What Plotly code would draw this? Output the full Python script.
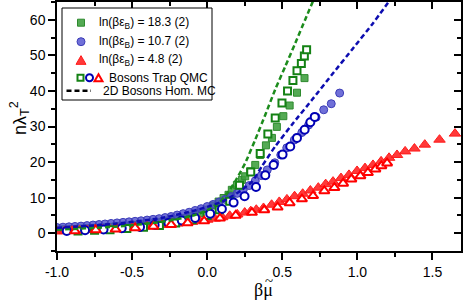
import plotly.graph_objects as go

# ---------------- data ----------------
# ln(beta eps_B) = 18.3 : filled green squares
gf_x = [-1.0, -0.95, -0.9, -0.85, -0.8, -0.75, -0.7, -0.65, -0.6, -0.55, -0.5, -0.45, -0.4,
        -0.35, -0.3, -0.25, -0.2, -0.15, -0.1, -0.05, 0.0, 0.04, 0.076, 0.109, 0.142, 0.164,
        0.198, 0.231, 0.253, 0.287, 0.32, 0.353, 0.391, 0.431, 0.464, 0.507, 0.549, 0.598, 0.648]
gf_y = [1.0, 1.1, 1.2, 1.3, 1.4, 1.5, 1.65, 1.8, 1.95, 2.1, 2.3, 2.5, 2.7,
        2.95, 3.2, 3.5, 3.9, 4.3, 4.9, 5.6, 6.6, 7.8, 8.9, 9.9, 10.8, 12.2,
        13.6, 15.0, 16.0, 17.4, 19.2, 22.0, 24.7, 26.8, 29.9, 32.9, 35.9, 39.5, 43.6]

# ln(beta eps_B) = 10.7 : filled blue circles
bf_x = [-1.0, -0.96, -0.92, -0.88, -0.84, -0.8, -0.76, -0.72, -0.68, -0.64, -0.6, -0.56,
        -0.52, -0.48, -0.44, -0.4, -0.36, -0.32, -0.28, -0.24, -0.2, -0.16, -0.12, -0.08,
        -0.04, 0.0, 0.04, 0.08, 0.12, 0.16, 0.2, 0.24, 0.28, 0.32, 0.36, 0.4, 0.45, 0.49,
        0.53, 0.58, 0.63, 0.675, 0.725, 0.776, 0.826, 0.882]
bf_y = [1.6, 1.7, 1.8, 1.9, 2.0, 2.15, 2.3, 2.45, 2.6, 2.75, 2.9, 3.05,
        3.2, 3.35, 3.5, 3.7, 3.9, 4.1, 4.4, 4.7, 5.1, 5.5, 5.9, 6.4,
        6.9, 7.5, 8.1, 8.8, 9.5, 10.3, 11.2, 12.2, 13.4, 14.7, 16.2, 17.8, 19.8, 22.0,
        24.0, 26.2, 28.3, 30.4, 32.6, 34.7, 36.4, 39.4]

# ln(beta eps_B) = 4.8 : filled red triangles
rf_x = [-1.0, -0.95, -0.9, -0.85, -0.8, -0.75, -0.7, -0.65, -0.6, -0.55, -0.5, -0.45, -0.4,
        -0.35, -0.3, -0.25, -0.2, -0.15, -0.1, -0.05, 0.0, 0.05, 0.1, 0.15, 0.2, 0.25, 0.29,
        0.327, 0.375, 0.429, 0.48, 0.531, 0.582, 0.636, 0.687, 0.74, 0.789, 0.838, 0.891,
        0.944, 0.998, 1.051, 1.104, 1.158, 1.211, 1.264, 1.318, 1.38, 1.449, 1.547, 1.65]
rf_y = [0.5, 0.6, 0.7, 0.8, 0.9, 1.0, 1.1, 1.2, 1.35, 1.5, 1.6, 1.75, 1.9,
        2.1, 2.3, 2.5, 2.7, 2.95, 3.2, 3.5, 3.8, 4.1, 4.5, 4.9, 5.3, 5.8, 6.2,
        6.6, 7.1, 8.0, 8.8, 9.5, 10.4, 11.1, 12.0, 12.8, 13.8, 14.5, 15.5,
        16.4, 17.5, 18.3, 19.2, 20.2, 21.2, 22.0, 23.0, 23.8, 24.9, 26.3, 28.0]

# Bosons trap QMC (open symbols)
go_x = [-0.86, -0.75, -0.647, -0.535, -0.424, -0.318, -0.21, -0.1, 0.0, 0.08, 0.15, 0.215,
        0.29, 0.353, 0.404, 0.453, 0.498, 0.535, 0.571, 0.598, 0.627, 0.647, 0.662]
go_y = [0.6, 0.8, 1.0, 1.3, 1.7, 2.2, 2.9, 3.8, 5.0, 6.6, 9.0, 13.5,
        17.2, 22.4, 27.9, 32.4, 36.6, 40.0, 42.9, 45.7, 47.7, 49.8, 51.6]

bo_x = [-0.935, -0.813, -0.69, -0.569, -0.447, -0.35, -0.258, -0.169, -0.08, 0.02, 0.098,
        0.176, 0.249, 0.325, 0.387, 0.442, 0.502, 0.553, 0.598, 0.649, 0.687, 0.716]
bo_y = [0.65, 0.85, 1.05, 1.4, 1.75, 2.3, 2.9, 3.6, 4.3, 5.5, 6.8,
        8.6, 10.4, 13.0, 16.3, 19.2, 22.1, 24.4, 26.8, 29.1, 31.2, 32.7]

ro_x = [-0.88, -0.742, -0.61, -0.48, -0.358, -0.24, -0.13, -0.02, 0.085, 0.19, 0.298, 0.38,
        0.469, 0.549, 0.631, 0.705, 0.78, 0.847, 0.905, 0.96, 1.02, 1.07, 1.12, 1.16, 1.198]
ro_y = [0.6, 0.9, 1.1, 1.5, 1.9, 2.4, 2.9, 3.4, 4.2, 5.0, 5.8, 6.5,
        7.3, 8.5, 9.6, 10.5, 11.9, 12.8, 14.0, 15.2, 16.1, 17.0, 18.0, 18.9, 19.7]

# 2D Bosons homogeneous MC (dashed)
gd_x = [-1.0, -0.6, -0.3, -0.1, 0.0, 0.087, 0.142, 0.187, 0.253, 0.32, 0.387, 0.453, 0.52,
        0.587, 0.653, 0.709]
gd_y = [1.0, 1.9, 3.2, 4.9, 6.5, 8.9, 11.7, 14.6, 19.7, 26.3, 33.3, 40.4, 46.9,
        53.5, 60.1, 65.7]
bd_x = [-1.0, -0.6, -0.3, -0.1, 0.0, 0.1, 0.2, 0.298, 0.364, 0.453, 0.564, 0.698, 0.831,
        0.964, 1.098, 1.22]
bd_y = [1.5, 2.7, 4.3, 6.2, 7.4, 8.9, 11.3, 14.5, 18.8, 24.4, 30.5, 37.5, 44.6,
        51.6, 58.7, 65.7]

legend_labels = ["ln(βε<sub>B</sub>) = 18.3 (2)", "ln(βε<sub>B</sub>) = 10.7 (2)",
                 "ln(βε<sub>B</sub>) = 4.8 (2)", "Bosons Trap QMC", "2D Bosons Hom. MC"]

x_ticks = [-1.0, -0.5, 0.0, 0.5, 1.0, 1.5]
y_ticks = [0, 10, 20, 30, 40, 50, 60]

# ---------------- styles ----------------
W, H = 463, 300
ML, MR, MT, MB = 57, 2, 2, 49
GREEN_F, GREEN_FL = "rgba(60,158,60,0.88)", "#2e8a2e"
BLUE_F, BLUE_FL = "rgba(72,72,205,0.78)", "#3d3db8"
RED_F, RED_FL = "rgba(255,40,40,0.92)", "#ff1a1a"
GREEN_O, BLUE_O, RED_O = "#148214", "#0000b4", "#ff0000"
GREEN_D, BLUE_D = "#1c8c1c", "#0d0db0"
FONT = "Arial, Liberation Sans, sans-serif"
SERIF = "Liberation Serif, Times New Roman, serif"

fig = go.Figure()

def filled(x, y, sym, size, fc, lc):
    fig.add_trace(go.Scatter(x=x, y=y, mode="markers", showlegend=False, hoverinfo="skip",
                             marker=dict(symbol=sym, size=size, color=fc,
                                         line=dict(color=lc, width=1))))

def opened(x, y, sym, size, lc):
    fig.add_trace(go.Scatter(x=x, y=y, mode="markers", showlegend=False, hoverinfo="skip",
                             marker=dict(symbol=sym, size=size, color="white",
                                         line=dict(color=lc, width=2))))

filled(gf_x, gf_y, "square", 7, GREEN_F, GREEN_FL)
filled(bf_x, bf_y, "circle", 8, BLUE_F, BLUE_FL)
filled(rf_x, rf_y, "triangle-up", 10, RED_F, RED_FL)
opened(go_x, go_y, "square", 7, GREEN_O)
opened(bo_x, bo_y, "circle", 8, BLUE_O)
opened(ro_x, ro_y, "triangle-up", 9, RED_O)

for x, y, c in [(gd_x, gd_y, GREEN_D), (bd_x, bd_y, BLUE_D)]:
    fig.add_trace(go.Scatter(x=x, y=y, mode="lines", showlegend=False, hoverinfo="skip",
                             line=dict(color=c, width=2.5, dash="5px,3px", shape="spline",
                                       smoothing=0.6)))

# dummy trace so the mirror axes (inside ticks) get drawn
fig.add_trace(go.Scatter(x=[None], y=[None], xaxis="x2", yaxis="y2", showlegend=False,
                         hoverinfo="skip"))

XR = [-1.0, 1.69]
YR = [-5, 65]
axis_common = dict(showgrid=False, zeroline=False, showline=True, linecolor="black",
                   linewidth=1.5, tickcolor="black", tickwidth=1.5, ticklen=7,
                   tickfont=dict(family=FONT, size=14, color="black"))
noticks_font = {k: v for k, v in axis_common.items() if k != "tickfont"}
fig.update_layout(
    width=W, height=H, margin=dict(l=ML, r=MR, t=MT, b=MB, autoexpand=False),
    paper_bgcolor="white", plot_bgcolor="white", showlegend=False,
    xaxis=dict(range=XR, tickvals=x_ticks, ticktext=[f"{v:.1f}" for v in x_ticks],
               ticks="outside", minor=dict(dtick=0.25, tick0=-1.0, ticks="outside", ticklen=4,
                                           tickwidth=1.5, tickcolor="black"),
               **axis_common),
    yaxis=dict(range=YR, tickvals=y_ticks, ticks="outside",
               minor=dict(dtick=5, tick0=0, ticks="outside", ticklen=4, tickwidth=1.5,
                          tickcolor="black"),
               **axis_common),
    xaxis2=dict(range=XR, overlaying="x", side="top", showticklabels=False, ticks="inside",
                tickvals=x_ticks, minor=dict(dtick=0.25, tick0=-1.0, ticks="inside", ticklen=4,
                                             tickwidth=1.5, tickcolor="black"),
                **noticks_font),
    yaxis2=dict(range=YR, overlaying="y", side="right", showticklabels=False, ticks="inside",
                tickvals=y_ticks, minor=dict(dtick=5, tick0=0, ticks="inside", ticklen=4,
                                             tickwidth=1.5, tickcolor="black"),
                **noticks_font),
)

# ---------------- pixel layout -> paper ----------------
PW, PH = W - ML - MR, H - MT - MB
def px(X):
    return (X - ML) / PW
def py(Y):
    return (H - MB - Y) / PH

# axis titles
fig.add_annotation(x=px(263), y=py(290), xref="paper", yref="paper", text="βμ",
                   showarrow=False, xanchor="center", yanchor="middle",
                   font=dict(family=SERIF, size=18, color="black"))
fig.add_annotation(x=px(268.5), y=py(281), xref="paper", yref="paper", text="~",
                   showarrow=False, xanchor="center", yanchor="middle",
                   font=dict(family=SERIF, size=15, color="black"))
fig.add_annotation(x=px(19), y=py(118), xref="paper", yref="paper",
                   text="nλ<sub>T</sub><sup>2</sup>", showarrow=False, textangle=-90,
                   xanchor="center", yanchor="middle",
                   font=dict(family=FONT, size=18, color="black"))

# custom legend
LEG_BOX = (62, 8, 212, 100)
ROW_Y = [22.7, 41.7, 60.0, 77.7, 90.7]
fig.add_shape(type="rect", xref="paper", yref="paper", x0=px(LEG_BOX[0]), x1=px(LEG_BOX[2]),
              y0=py(LEG_BOX[3]), y1=py(LEG_BOX[1]), line=dict(color="black", width=1),
              fillcolor="white", layer="above")

def leg_marker(cx, cy, kind, size, fill, line, lw):
    common = dict(xref="paper", yref="paper", xsizemode="pixel", ysizemode="pixel",
                  xanchor=px(cx), yanchor=py(cy), fillcolor=fill,
                  line=dict(color=line, width=lw), layer="above")
    if kind in ("rect", "circle"):
        fig.add_shape(type=kind, x0=-size / 2, x1=size / 2, y0=-size / 2, y1=size / 2,
                      **common)
    else:
        h = size * 0.87
        fig.add_shape(type="path", path=f"M {-size/2},{-h/2} L {size/2},{-h/2} L 0,{h/2} Z",
                      **common)

leg_marker(81, ROW_Y[0], "rect", 7, GREEN_F, GREEN_FL, 1)
leg_marker(81, ROW_Y[1], "circle", 8, BLUE_F, BLUE_FL, 1)
leg_marker(81, ROW_Y[2], "tri", 10, RED_F, RED_FL, 1)
leg_marker(80.5, ROW_Y[3], "rect", 6, "white", GREEN_O, 2)
leg_marker(89.5, ROW_Y[3], "circle", 7, "white", BLUE_O, 2)
leg_marker(98.5, ROW_Y[3], "tri", 8, "white", RED_O, 2)
fig.add_shape(type="line", xref="paper", yref="paper", x0=px(66.5), x1=px(91),
              y0=py(ROW_Y[4]), y1=py(ROW_Y[4]), line=dict(color="black", width=2.5,
                                                         dash="5px,3px"), layer="above")

TEXT_X = [96.7, 96.7, 96.7, 106.5, 100.7]
for i, lab in enumerate(legend_labels):
    fig.add_annotation(x=px(TEXT_X[i]), y=py(ROW_Y[i]), xref="paper", yref="paper",
                       text=lab, showarrow=False, xanchor="left", yanchor="middle",
                       font=dict(family=FONT, size=12, color="black"))

fig.write_html("out.html", config={"displayModeBar": False},
               post_script="document.body.style.margin='0';document.body.style.padding='0';")
